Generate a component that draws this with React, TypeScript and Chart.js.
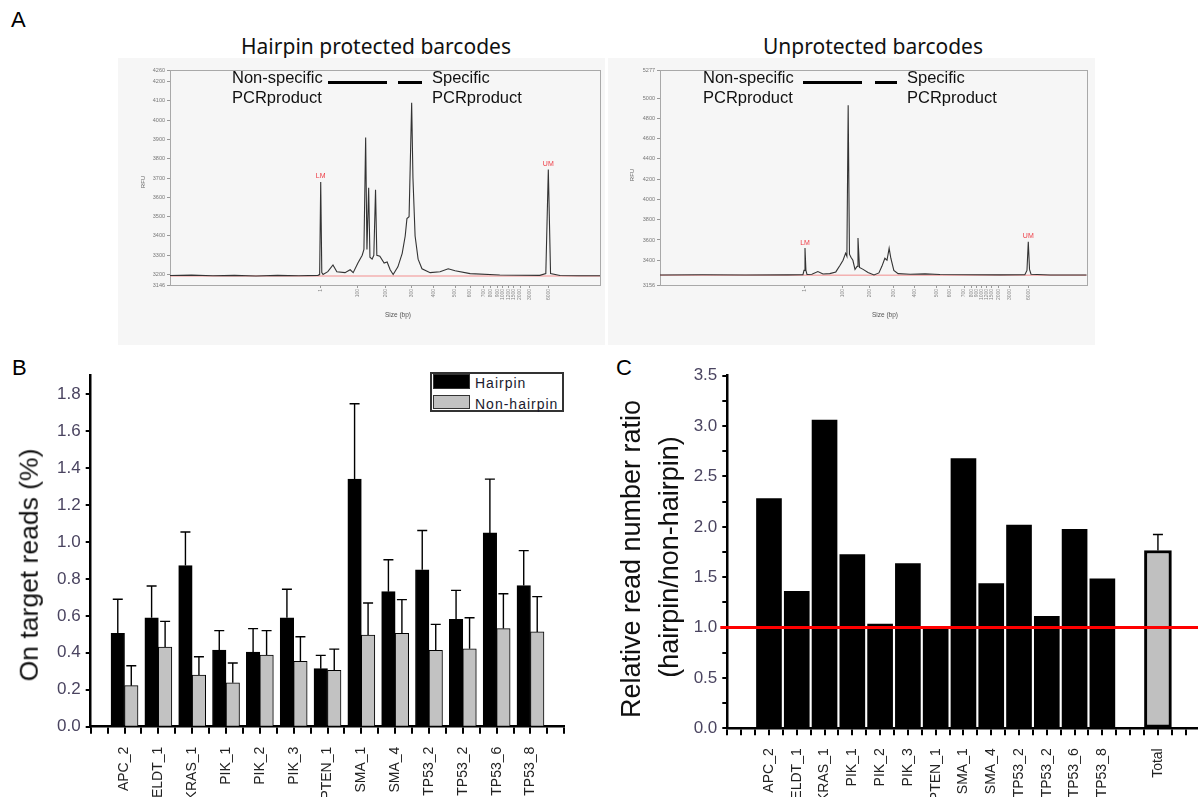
import React, { useEffect, useRef } from "react";
import { Chart, registerables } from "chart.js";

Chart.register(...registerables);

const SANS = '"Liberation Sans", Arial, sans-serif';
const TITLE_FONT = '"Noto Sans", "Open Sans", sans-serif';

// ---------------- Panel A : electropherograms ----------------
const ladderSizes = ["1", "100", "200", "300", "400", "500", "600", "700", "800", "900", "1000", "1200", "1500", "2000", "3000", "6000"];
// migration positions (0-100 units across the plot) of the ladder peaks
const ladderPosHairpin = [35.05, 43.56, 50.23, 56.21, 61.23, 66.28, 69.77, 72.86, 74.58, 76.12, 77.37, 78.67, 79.84, 81.4, 83.72, 87.98];
const ladderPosUnprotected = [33.98, 42.72, 49.05, 54.67, 59.76, 64.85, 67.96, 71.25, 73.05, 74.22, 75.39, 76.56, 77.74, 79.28, 82.02, 86.31];

const rfuTicksHairpin = [3146, 3200, 3300, 3400, 3500, 3600, 3700, 3800, 3900, 4000, 4100, 4200, 4260];
const rfuTicksUnprotected = [3156, 3400, 3600, 3800, 4000, 4200, 4400, 4600, 4800, 5000, 5277];

const markerNames = ["LM", "UM"];
const markerPosHairpin = [35.05, 87.98];
const markerPeakHairpin = [3680, 3745];
const markerPosUnprotected = [33.98, 86.31];
const markerPeakUnprotected = [3520, 3583];

const baselineHairpin = 3193;
const baselineUnprotected = 3252;

const hairpinTraceX = [0, 5, 10, 15, 20, 25, 30, 34.4, 34.8, 35.05, 35.3, 35.6, 36.7, 37.9, 38.8, 40.7, 41.9, 42.6, 43.7, 44.7, 45.1, 45.5, 45.8, 46.2, 46.5, 47.0, 47.4, 47.8, 48.1, 48.8, 49.8, 50.5, 51.2, 51.9, 53.0, 54.0, 54.7, 55.1, 55.6, 56.2, 56.5, 57.0, 57.7, 58.6, 60.5, 62.8, 64.7, 66.3, 69.8, 76.7, 86.0, 87.4, 87.98, 88.5, 90.7, 95, 100];
const hairpinTraceRfu = [3195, 3197, 3194, 3196, 3193, 3196, 3194, 3196, 3200, 3680, 3210, 3200, 3215, 3250, 3215, 3210, 3225, 3210, 3260, 3300, 3330, 3910, 3330, 3650, 3290, 3280, 3300, 3640, 3300, 3295, 3260, 3265, 3225, 3200, 3240, 3310, 3400, 3490, 3500, 4090, 3700, 3400, 3280, 3230, 3210, 3215, 3230, 3220, 3205, 3198, 3196, 3205, 3745, 3205, 3195, 3194, 3194];

const unprotTraceX = [0, 10, 20, 30, 33.5, 33.75, 33.98, 34.2, 34.45, 35.6, 37.0, 38.2, 39.8, 41.2, 42.2, 42.9, 43.5, 43.8, 44.1, 44.4, 44.75, 45.2, 45.7, 46.2, 46.4, 46.75, 47.6, 48.75, 50.15, 51.3, 52.0, 52.7, 53.2, 53.7, 54.1, 54.8, 55.8, 58.6, 62.1, 65.6, 72.7, 79.7, 85.5, 86.0, 86.31, 86.6, 86.95, 91.4, 100];
const unprotTraceRfu = [3255, 3257, 3254, 3256, 3258, 3300, 3520, 3300, 3260, 3262, 3288, 3265, 3268, 3285, 3350, 3400, 3470, 3440, 4930, 3460, 3430, 3400, 3310, 3340, 3620, 3330, 3310, 3280, 3255, 3275, 3340, 3420, 3400, 3518, 3420, 3300, 3268, 3262, 3266, 3260, 3257, 3256, 3258, 3300, 3583, 3310, 3262, 3255, 3255];

// ---------------- Panel B : on-target reads ----------------
const geneLabels = ["APC_2", "ELDT_1", "KRAS_1", "PIK_1", "PIK_2", "PIK_3", "PTEN_1", "SMA_1", "SMA_4", "TP53_2", "TP53_2", "TP53_6", "TP53_8"];
const hairpinMean = [0.505, 0.59, 0.872, 0.415, 0.404, 0.59, 0.314, 1.341, 0.731, 0.849, 0.581, 1.049, 0.764];
const hairpinUpper = [0.69, 0.762, 1.054, 0.52, 0.531, 0.744, 0.386, 1.748, 0.904, 1.062, 0.738, 1.34, 0.953];
const nonHairpinMean = [0.222, 0.431, 0.28, 0.238, 0.388, 0.354, 0.305, 0.496, 0.505, 0.413, 0.422, 0.531, 0.513];
const nonHairpinUpper = [0.33, 0.57, 0.379, 0.345, 0.52, 0.487, 0.42, 0.67, 0.688, 0.554, 0.59, 0.72, 0.704];
const seriesNames = ["Hairpin", "Non-hairpin"];

// ---------------- Panel C : ratio ----------------
const ratioValues = [2.28, 1.36, 3.06, 1.725, 1.035, 1.636, 1.0, 2.677, 1.437, 2.017, 1.111, 1.974, 1.483];
const totalLabel = "Total";
const totalMean = 1.765;
const totalUpper = 1.924;
const referenceRatio = 1.0;
const totalSlot = 15;

// ---------------- helpers ----------------
const framePlugin = {
  id: "frame",
  beforeDatasetsDraw(chart: any) {
    const { ctx, chartArea: a } = chart;
    ctx.save();
    ctx.strokeStyle = "#a9a9a9";
    ctx.lineWidth = 1;
    ctx.strokeRect(Math.round(a.left) + 0.5, Math.round(a.top) + 0.5, Math.round(a.right - a.left), Math.round(a.bottom - a.top));
    ctx.restore();
  },
};

function errorBarPlugin(uppers: (number[] | null)[]) {
  return {
    id: "errorBars",
    afterDatasetsDraw(chart: any) {
      const ctx = chart.ctx;
      const yScale = chart.scales.y;
      uppers.forEach((arr, di) => {
        if (!arr) return;
        const meta = chart.getDatasetMeta(di);
        meta.data.forEach((el: any, i: number) => {
          const top = yScale.getPixelForValue(arr[i]);
          ctx.save();
          ctx.strokeStyle = "#000";
          ctx.lineWidth = 1.4;
          ctx.beginPath();
          ctx.moveTo(el.x, el.y);
          ctx.lineTo(el.x, top);
          ctx.moveTo(el.x - 5, top);
          ctx.lineTo(el.x + 5, top);
          ctx.stroke();
          ctx.restore();
        });
      });
    },
  };
}

function Electro(props: any) {
  const ref = useRef<HTMLCanvasElement>(null);
  const { left, top, width, height, traceX, traceY, baseline, ladderPos, rfuTicks, markerPos, markerPeak, yAxisWidth, padTop, padRight, xAxisHeight } = props;
  useEffect(() => {
    const markerPlugin = {
      id: "markers",
      afterDatasetsDraw(chart: any) {
        const { ctx, scales } = chart;
        ctx.save();
        ctx.fillStyle = "#ee3b44";
        ctx.font = `7px ${SANS}`;
        ctx.textAlign = "center";
        ctx.textBaseline = "bottom";
        markerNames.forEach((n, i) => {
          ctx.fillText(n, scales.x.getPixelForValue(markerPos[i]), scales.y.getPixelForValue(markerPeak[i]) - 2);
        });
        ctx.restore();
      },
    };
    const chart = new Chart(ref.current as HTMLCanvasElement, {
      type: "line",
      data: {
        datasets: [
          {
            data: traceX.map((x: number, i: number) => ({ x, y: traceY[i] })),
            borderColor: "#333333",
            borderWidth: 1.1,
            pointRadius: 0,
            tension: 0,
          },
          {
            data: [
              { x: 0, y: baseline },
              { x: 100, y: baseline },
            ],
            borderColor: "rgba(240,120,120,0.55)",
            borderWidth: 1.6,
            pointRadius: 0,
          },
        ],
      },
      options: {
        animation: false,
        responsive: false,
        events: [],
        layout: { padding: { top: padTop, right: padRight, left: 0, bottom: 0 } },
        plugins: { legend: { display: false }, tooltip: { enabled: false } },
        scales: {
          x: {
            type: "linear",
            min: 0,
            max: 100,
            afterBuildTicks: (s: any) => {
              s.ticks = ladderPos.map((v: number) => ({ value: v }));
            },
            afterFit: (s: any) => {
              s.height = xAxisHeight;
            },
            ticks: {
              autoSkip: false,
              minRotation: 90,
              maxRotation: 90,
              font: { size: 5, family: SANS },
              color: "#888",
              padding: 1,
              callback: (_v: any, i: number) => ladderSizes[i],
            },
            grid: { drawOnChartArea: false, tickLength: 3, color: "#999", lineWidth: 1 },
            border: { display: false },
          },
          y: {
            type: "linear",
            min: rfuTicks[0],
            max: rfuTicks[rfuTicks.length - 1],
            afterBuildTicks: (s: any) => {
              s.ticks = rfuTicks.map((v: number) => ({ value: v }));
            },
            afterFit: (s: any) => {
              s.width = yAxisWidth;
            },
            ticks: {
              font: { size: 5.5, family: SANS },
              color: "#777",
              padding: 2,
              callback: (v: any) => String(v),
            },
            grid: { drawOnChartArea: false, tickLength: 3, color: "#999", lineWidth: 1 },
            border: { display: false },
          },
        },
      } as any,
      plugins: [framePlugin, markerPlugin],
    });
    return () => chart.destroy();
  }, []);
  return <canvas ref={ref} width={width} height={height} style={{ position: "absolute", left, top }} />;
}

function OnTargetChart() {
  const ref = useRef<HTMLCanvasElement>(null);
  useEffect(() => {
    const chart = new Chart(ref.current as HTMLCanvasElement, {
      type: "bar",
      data: {
        datasets: [
          {
            label: seriesNames[0],
            data: geneLabels.map((_, i) => ({ x: i + 1, y: hairpinMean[i] })),
            backgroundColor: "#000000",
            borderColor: "#000000",
            borderWidth: 1,
            barThickness: 13.5,
          },
          {
            label: seriesNames[1],
            data: geneLabels.map((_, i) => ({ x: i + 1, y: nonHairpinMean[i] })),
            backgroundColor: "#c2c2c2",
            borderColor: "#000000",
            borderWidth: 1,
            barThickness: 13.5,
          },
        ],
      },
      options: {
        animation: false,
        responsive: false,
        events: [],
        layout: { padding: { top: 15.7, right: 35.7, left: 0, bottom: 0 } },
        plugins: { legend: { display: false }, tooltip: { enabled: false } },
        scales: {
          x: {
            type: "linear",
            min: 0,
            max: 14,
            offset: false,
            afterFit: (s: any) => {
              s.height = 70.3;
            },
            ticks: {
              stepSize: 0.5,
              autoSkip: false,
              minRotation: 90,
              maxRotation: 90,
              font: { size: 14, family: SANS },
              color: "#222",
              padding: 13,
              callback: (v: any) => (Number.isInteger(v) && v >= 1 && v <= geneLabels.length ? geneLabels[v - 1] : ""),
            },
            grid: { offset: false, drawOnChartArea: false, tickLength: 7, color: "#000", lineWidth: 2 },
            border: { display: true, width: 2.5, color: "#000" },
          },
          y: {
            type: "linear",
            min: 0,
            max: 1.9,
            afterFit: (s: any) => {
              s.width = 90.7;
            },
            ticks: {
              stepSize: 0.1,
              font: { size: 17, family: SANS },
              color: "#4a4460",
              padding: 5,
              callback: (v: any) => {
                const k = Math.round(v * 10);
                return k % 2 === 0 ? (k / 10).toFixed(1) : "";
              },
            },
            grid: { drawOnChartArea: false, tickLength: 5, color: "#000", lineWidth: 2 },
            border: { display: true, width: 2.5, color: "#000" },
          },
        },
      } as any,
      plugins: [errorBarPlugin([hairpinUpper, nonHairpinUpper])],
    });
    return () => chart.destroy();
  }, []);
  return <canvas ref={ref} width={600} height={437} style={{ position: "absolute", left: 0, top: 360 }} />;
}

function RatioChart() {
  const ref = useRef<HTMLCanvasElement>(null);
  useEffect(() => {
    const refLinePlugin = {
      id: "refLine",
      afterDatasetsDraw(chart: any) {
        const { ctx, chartArea: a, scales } = chart;
        const y = scales.y.getPixelForValue(referenceRatio);
        ctx.save();
        ctx.strokeStyle = "#ff0000";
        ctx.lineWidth = 3;
        ctx.beginPath();
        ctx.moveTo(a.left - 7, y);
        ctx.lineTo(a.right, y);
        ctx.stroke();
        ctx.restore();
      },
    };
    const chart = new Chart(ref.current as HTMLCanvasElement, {
      type: "bar",
      data: {
        datasets: [
          {
            data: geneLabels.map((_, i) => ({ x: i + 1, y: ratioValues[i] })),
            backgroundColor: "#000000",
            borderWidth: 0,
            barThickness: 25,
            grouped: false,
          },
          {
            data: [{ x: totalSlot, y: totalMean }],
            backgroundColor: "#c0c0c0",
            borderColor: "#000000",
            borderWidth: 3,
            borderSkipped: false,
            barThickness: 27,
            grouped: false,
          },
        ],
      },
      options: {
        animation: false,
        responsive: false,
        events: [],
        layout: { padding: { top: 15.7, right: 36.5, left: 0, bottom: 0 } },
        plugins: { legend: { display: false }, tooltip: { enabled: false } },
        scales: {
          x: {
            type: "linear",
            min: -0.5,
            max: 17,
            offset: false,
            afterFit: (s: any) => {
              s.height = 68.7;
            },
            ticks: {
              stepSize: 0.5,
              autoSkip: false,
              minRotation: 90,
              maxRotation: 90,
              font: { size: 14, family: SANS },
              color: "#222",
              padding: 13,
              callback: (v: any) => {
                if (v === totalSlot) return totalLabel;
                return Number.isInteger(v) && v >= 1 && v <= geneLabels.length ? geneLabels[v - 1] : "";
              },
            },
            grid: { offset: false, drawOnChartArea: false, tickLength: 7, color: "#000", lineWidth: 2 },
            border: { display: true, width: 2.5, color: "#000" },
          },
          y: {
            type: "linear",
            min: 0,
            max: 3.5,
            afterFit: (s: any) => {
              s.width = 127.3;
            },
            ticks: {
              stepSize: 0.25,
              font: { size: 17, family: SANS },
              color: "#4a4460",
              padding: 5,
              callback: (v: any) => {
                const k = Math.round(v * 4);
                return k % 2 === 0 ? (k / 4).toFixed(1) : "";
              },
            },
            grid: { drawOnChartArea: false, tickLength: 5, color: "#000", lineWidth: 2 },
            border: { display: true, width: 2.5, color: "#000" },
          },
        },
      } as any,
      plugins: [refLinePlugin, errorBarPlugin([null, [totalUpper]])],
    });
    return () => chart.destroy();
  }, []);
  return <canvas ref={ref} width={650} height={437} style={{ position: "absolute", left: 600, top: 360 }} />;
}

function Txt(props: any) {
  const { left, top, size, children, family, color, style } = props;
  return (
    <div
      style={{
        position: "absolute",
        left,
        top,
        fontSize: size,
        fontFamily: family || SANS,
        color: color || "#000",
        lineHeight: 1,
        whiteSpace: "nowrap",
        ...style,
      }}
    >
      {children}
    </div>
  );
}

function CenterTxt(props: any) {
  const { cx, cy, size, children, family, color, rotate, style } = props;
  return (
    <div
      style={{
        position: "absolute",
        left: cx,
        top: cy,
        transform: `translate(-50%, -50%)${rotate ? " rotate(-90deg)" : ""}`,
        fontSize: size,
        fontFamily: family || SANS,
        color: color || "#000",
        lineHeight: 1,
        whiteSpace: "nowrap",
        ...style,
      }}
    >
      {children}
    </div>
  );
}

function Annot(props: any) {
  const { x1, x2, xs1, xs2, xRight, xLeft, y } = props;
  return (
    <>
      <div style={{ position: "absolute", left: xLeft, top: y - 13.7, fontSize: 16.5, lineHeight: "20px", fontFamily: SANS, color: "#111", whiteSpace: "nowrap" }}>
        Non-specific
        <br />
        PCRproduct
      </div>
      <div style={{ position: "absolute", left: x1, top: y, width: x2 - x1, height: 3, background: "#000" }} />
      <div style={{ position: "absolute", left: xs1, top: y, width: xs2 - xs1, height: 3, background: "#000" }} />
      <div style={{ position: "absolute", left: xRight, top: y - 13.7, fontSize: 16.5, lineHeight: "20px", fontFamily: SANS, color: "#111", whiteSpace: "nowrap" }}>
        Specific
        <br />
        PCRproduct
      </div>
    </>
  );
}

export default function App() {
  return (
    <div style={{ position: "fixed", left: 0, top: 0, width: 1198, height: 797, overflow: "hidden", background: "#fff" }}>
      {/* Panel letters */}
      <Txt left={11} top={9} size={22}>A</Txt>
      <Txt left={12} top={357} size={22}>B</Txt>
      <Txt left={616} top={357} size={22}>C</Txt>

      {/* Panel A */}
      <CenterTxt cx={376} cy={46} size={21} family={TITLE_FONT} color="#111">Hairpin protected barcodes</CenterTxt>
      <CenterTxt cx={873} cy={46} size={21} family={TITLE_FONT} color="#111">Unprotected barcodes</CenterTxt>
      <div style={{ position: "absolute", left: 118, top: 58, width: 487, height: 287, background: "#f6f6f6" }} />
      <div style={{ position: "absolute", left: 608, top: 58, width: 487, height: 287, background: "#f6f6f6" }} />
      <Electro
        left={120}
        top={58}
        width={485}
        height={287}
        traceX={hairpinTraceX}
        traceY={hairpinTraceRfu}
        baseline={baselineHairpin}
        ladderPos={ladderPosHairpin}
        rfuTicks={rfuTicksHairpin}
        markerPos={markerPosHairpin}
        markerPeak={markerPeakHairpin}
        yAxisWidth={50}
        padTop={12}
        padRight={5}
        xAxisHeight={60}
      />
      <Electro
        left={610}
        top={58}
        width={485}
        height={287}
        traceX={unprotTraceX}
        traceY={unprotTraceRfu}
        baseline={baselineUnprotected}
        ladderPos={ladderPosUnprotected}
        rfuTicks={rfuTicksUnprotected}
        markerPos={markerPosUnprotected}
        markerPeak={markerPeakUnprotected}
        yAxisWidth={50}
        padTop={12}
        padRight={8.3}
        xAxisHeight={60}
      />
      <CenterTxt cx={143} cy={182} size={6} color="#666" rotate>RFU</CenterTxt>
      <CenterTxt cx={632} cy={175} size={6} color="#666" rotate>RFU</CenterTxt>
      <CenterTxt cx={398} cy={315} size={6.5} color="#555">Size (bp)</CenterTxt>
      <CenterTxt cx={885} cy={315} size={6.5} color="#555">Size (bp)</CenterTxt>
      <Annot xLeft={232} x1={328} x2={387} xs1={398} xs2={422} xRight={432} y={81} />
      <Annot xLeft={703} x1={803} x2={862} xs1={875} xs2={897} xRight={907} y={81} />

      {/* Panel B */}
      <OnTargetChart />
      <CenterTxt cx={29} cy={565} size={26.5} color="#111" rotate>On target reads (%)</CenterTxt>
      <div style={{ position: "absolute", left: 430, top: 371.7, width: 130.3, height: 36.6, border: "2px solid #333", background: "#fff" }}>
        <div style={{ position: "absolute", left: 1, top: 0.5, width: 34.6, height: 13.3, background: "#000", border: "1px solid #333" }} />
        <div style={{ position: "absolute", left: 1, top: 21.3, width: 34.6, height: 12.3, background: "#c2c2c2", border: "1.5px solid #333" }} />
        <div style={{ position: "absolute", left: 43, top: 1, fontSize: 14, lineHeight: "16px", letterSpacing: 1, fontFamily: SANS, color: "#1a1a2e" }}>{seriesNames[0]}</div>
        <div style={{ position: "absolute", left: 43, top: 22, fontSize: 14, lineHeight: "16px", letterSpacing: 1, fontFamily: SANS, color: "#1a1a2e" }}>{seriesNames[1]}</div>
      </div>

      {/* Panel C */}
      <RatioChart />
      <CenterTxt cx={631} cy={559} size={27} color="#111" rotate>Relative read number ratio</CenterTxt>
      <CenterTxt cx={669} cy={557} size={27} color="#111" rotate>(hairpin/non-hairpin)</CenterTxt>
    </div>
  );
}
